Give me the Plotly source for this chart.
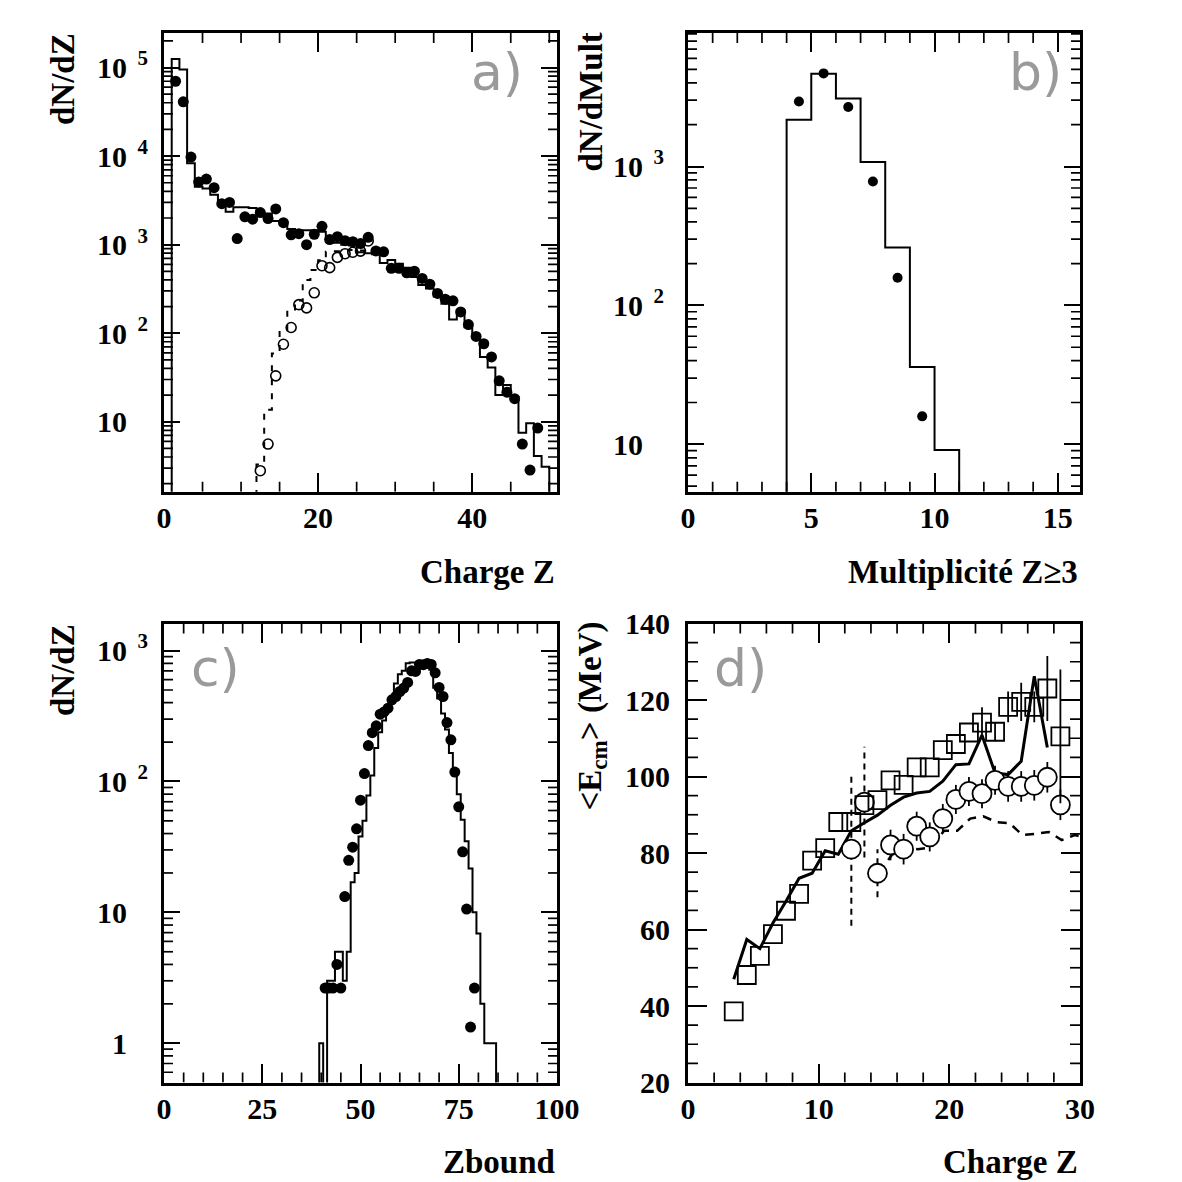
import math
import plotly.graph_objects as go

FONT = "Liberation Serif"
W = H = 1182

# ---------------- panel a : charge distribution ----------------
a_sim_lo = list(range(1, 50))          # lower bin edges, bin width 1
a_sim = [125000, 95000, 8300, 4500, 4300, 3650, 2950, 2350, 2650, 2650,
         2600, 2250, 2250, 1850, 1800, 1500, 1450, 1450, 1450, 1400,
         1150, 1050, 1000, 980, 820, 800, 780, 620, 670, 610,
         550, 430, 350, 320, 260, 215, 143, 182, 117, 91,
         54, 41, 20, 26, 19, 7.5, 9.6, 4.1, 3.1]
a_dat_z = [1.5, 2.5, 3.5, 4.5, 5.5, 6.5, 7.5, 8.5, 9.5, 10.5,
           11.5, 12.5, 13.5, 14.5, 15.5, 16.5, 17.5, 18.5, 19.5, 20.5,
           21.5, 22.5, 23.5, 24.5, 25.5, 26.5, 27.5, 28.5, 29.5, 30.5,
           31.5, 32.5, 33.5, 34.5, 35.5, 36.5, 37.5, 38.5, 39.5, 40.5,
           41.5, 42.5, 43.5, 44.5, 45.5, 46.5, 47.5, 48.5]
a_dat = [70000, 41000, 9750, 5100, 5500, 4400, 2900, 3000, 1170, 2060,
         1940, 2300, 1970, 2530, 1770, 1290, 1330, 1000, 1310, 1610,
         1140, 1230, 1110, 1080, 1030, 1210, 850, 830, 540, 540,
         481, 502, 415, 358, 281, 242, 232, 174, 125, 92,
         76, 54, 29, 21.6, 18.2, 5.6, 2.85, 8.5]
a_big_z = [12.5, 13.5, 14.5, 15.5, 16.5, 17.5, 18.5, 19.5, 20.5, 21.5,
           22.5, 23.5, 24.5, 25.5, 26.5]
a_big = [2.8, 5.6, 33, 75, 116, 210, 193, 286, 578, 550,
         718, 790, 820, 845, 1100]
a_bigsim_lo = list(range(12, 27))
a_bigsim = [3.3, 13.7, 59, 108, 185, 234, 400, 516, 667, 832,
            840, 860, 870, 860, 850]

# ---------------- panel b : multiplicity ----------------
b_sim_lo = [4, 5, 6, 7, 8, 9, 10]
b_sim = [2170, 4650, 3090, 1076, 261, 36, 9.1]
b_dat_m = [4.5, 5.5, 6.5, 7.5, 8.5, 9.5]
b_dat = [2940, 4680, 2680, 780, 158, 15.9]

# ---------------- panel c : Zbound ----------------
c_sim_lo = [39.5 + i for i in range(45)]   # bins centred on integers 40..84
c_sim = [1, 0, 3, 3, 5, 5, 3, 5, 17, 20,
         38, 50, 78, 111, 180, 238, 292, 365, 446, 560,
         660, 700, 800, 810, 810, 810, 810, 800, 714, 520,
         430, 330, 250, 165, 110, 80, 51, 35, 21.6, 10,
         6.9, 2, 1, 1, 1]
c_dat_z = list(range(41, 80))
c_dat = [2.64, 2.64, 2.64, 4.0, 2.64, 13.2, 25, 31.5, 43.5, 72,
         115, 188, 236, 266, 327, 340, 363, 421, 446, 487,
         517, 571, 701, 693, 784, 780, 798, 784, 677, 523,
         446, 282, 208, 118, 64, 29, 10.6, 1.33, 2.64]

# ---------------- panel d : mean energy ----------------
d_sq_z = [3.5 + i for i in range(26)]
d_sq = [38.6, 48.1, 53.1, 58.8, 64.9, 69.3, 78.0, 81.3, 88.1, 88.1,
        92.5, 93.8, 99.0, 97.8, 102.4, 102.4, 106.9, 108.5, 111.5, 114.1,
        111.7, 118.2, 119.5, 118.2, 123.0, 110.5]
d_sq_err = [0] * 19 + [4, 2.5, 4, 5, 4, 8.5, 17.5]
d_ci_z = [12.5 + i for i in range(17)]
d_ci = [81.0, 93.3, 74.7, 82.1, 81.0, 87.0, 84.2, 89.0, 94.0, 96.1,
        95.5, 99.0, 97.4, 97.4, 97.7, 99.8, 92.6]
d_ci_err = [0, 0, 0, 4, 4, 3.8, 3.8, 3.8, 3.8, 3.8, 3.8, 3.8, 4, 4, 4, 4, 4]
d_ci_dash_err = [20, 14.5, 6.3]          # large dashed errors on first three circles
d_sol_z = [3.5 + i for i in range(25)]
d_sol = [47.0, 57.4, 55.0, 61.7, 67.4, 73.4, 74.7, 80.6, 79.7, 85.8,
         87.9, 89.9, 92.5, 94.6, 95.7, 96.1, 98.8, 103.1, 103.3, 110.8,
         100.9, 100.5, 104.0, 126.2, 107.6]
d_dash_z = [14.6, 15.6, 16.6, 17.6, 18.6, 19.6, 20.6, 21.6, 22.6, 23.6,
            24.6, 25.6, 26.6, 27.6, 28.6, 29.6, 30.4]
d_dash = [74.8, 79.5, 81.2, 81.0, 81.5, 85.8, 85.8, 89.0, 89.6, 88.1,
          87.8, 84.7, 85.0, 85.5, 83.4, 84.7, 84.0]

# log tick labels
dec_vals = [1, 10, 100, 1000, 10000, 100000]
dec_text = ["1", "10", "10", "10", "10", "10"]
dec_sup = ["", "", "2", "3", "4", "5"]

# axis ranges (log axes given in decades)
RA_X, RA_Y = [0, 51], [0.21, 5.39]
RB_X, RB_Y = [0, 15.9], [0.659, 3.961]
RC_X, RC_Y = [0, 100], [-0.30, 3.207]
RD_X, RD_Y = [0, 30], [20, 140]


def step_xy(lo, counts, width=1.0, floor=1e-3, close_end=True):
    xs = [lo[0]] + list(lo) + ([lo[-1] + width] if close_end else [])
    ys = [floor] + [c if c > 0 else floor for c in counts]
    if close_end:
        ys = ys + [floor]
    else:
        xs = xs + [lo[-1] + width]
        ys = ys + [counts[-1]]
    return xs, ys


def log_labels(texts, sups):
    out = []
    for t, s in zip(texts, sups):
        if s:
            out.append("<b>%s<sup>\u2002%s</sup></b>" % (t, s))
        else:
            out.append("<b>%s<sup><span style='color:rgba(0,0,0,0)'>\u20025</span></sup></b>" % t)
    return out


def px(x):
    return x / W


def py(y):
    return 1 - y / H


fig = go.Figure()

# panel a
xs, ys = step_xy(a_sim_lo, a_sim)
fig.add_trace(go.Scatter(x=xs, y=ys, mode="lines", line=dict(color="black", width=2, shape="hv"),
                         xaxis="x", yaxis="y", showlegend=False))
xs, ys = step_xy(a_bigsim_lo, a_bigsim, close_end=False)
fig.add_trace(go.Scatter(x=xs, y=ys, mode="lines",
                         line=dict(color="black", width=2, shape="hv", dash="6px,8px"),
                         xaxis="x", yaxis="y", showlegend=False))
fig.add_trace(go.Scatter(x=a_big_z, y=a_big, mode="markers",
                         marker=dict(symbol="circle-open", size=10, color="black", line=dict(width=1.6)),
                         xaxis="x", yaxis="y", showlegend=False))
fig.add_trace(go.Scatter(x=a_dat_z, y=a_dat, mode="markers",
                         marker=dict(symbol="circle", size=11, color="black"),
                         xaxis="x", yaxis="y", showlegend=False))

# panel b
xs, ys = step_xy(b_sim_lo, b_sim)
fig.add_trace(go.Scatter(x=xs, y=ys, mode="lines", line=dict(color="black", width=2, shape="hv"),
                         xaxis="x2", yaxis="y2", showlegend=False))
fig.add_trace(go.Scatter(x=b_dat_m, y=b_dat, mode="markers",
                         marker=dict(symbol="circle", size=10, color="black"),
                         xaxis="x2", yaxis="y2", showlegend=False))

# panel c
xs, ys = step_xy(c_sim_lo, c_sim)
fig.add_trace(go.Scatter(x=xs, y=ys, mode="lines", line=dict(color="black", width=2, shape="hv"),
                         xaxis="x3", yaxis="y3", showlegend=False))
fig.add_trace(go.Scatter(x=c_dat_z, y=c_dat, mode="markers",
                         marker=dict(symbol="circle", size=11, color="black"),
                         xaxis="x3", yaxis="y3", showlegend=False))

# panel d
dx, dy = [], []
for z, v, e in zip(d_ci_z, d_ci, d_ci_dash_err):
    dx += [z, z, None]
    dy += [v - e, v + e, None]
fig.add_trace(go.Scatter(x=dx, y=dy, mode="lines", line=dict(color="black", width=2, dash="6px,5px"),
                         xaxis="x4", yaxis="y4", showlegend=False))
fig.add_trace(go.Scatter(x=d_dash_z, y=d_dash, mode="lines",
                         line=dict(color="black", width=2.5, dash="9px,7px"),
                         xaxis="x4", yaxis="y4", showlegend=False))
fig.add_trace(go.Scatter(x=d_sol_z, y=d_sol, mode="lines", line=dict(color="black", width=3),
                         xaxis="x4", yaxis="y4", showlegend=False))
fig.add_trace(go.Scatter(x=d_ci_z, y=d_ci, mode="markers",
                         marker=dict(symbol="circle", size=19, color="white",
                                     line=dict(width=1.8, color="black")),
                         error_y=dict(type="data", array=d_ci_err, color="black", thickness=1.8, width=0),
                         xaxis="x4", yaxis="y4", showlegend=False))
fig.add_trace(go.Scatter(x=d_sq_z, y=d_sq, mode="markers",
                         marker=dict(symbol="square-open", size=18, color="black", line=dict(width=1.8)),
                         error_y=dict(type="data", array=d_sq_err, color="black", thickness=1.8, width=0),
                         xaxis="x4", yaxis="y4", showlegend=False))

XL, XR = 164, 557
XL2, XR2 = 688, 1080
YT, YB = 33, 491.7
YT2, YB2 = 623.5, 1082.5
xa = (px(XL), px(XR))
xb = (px(XL2), px(XR2))
ytop = (py(YB), py(YT))
ybot = (py(YB2), py(YT2))


# ---- minor tick marks on all four sides (axis decoration, drawn as a line trace) ----
def lin_minor(lo, hi, step, major):
    out = []
    n = int(round((hi - lo) / step))
    for i in range(n + 1):
        v = round(lo + i * step, 6)
        if lo < v < hi and abs(v / major - round(v / major)) > 1e-6:
            out.append(v)
    return out


def log_minor(lo_log, hi_log):
    out = []
    for e in range(int(math.floor(lo_log)), int(math.ceil(hi_log)) + 1):
        for k in range(2, 10):
            if lo_log < math.log10(k) + e < hi_log:
                out.append(k * 10.0 ** e)
    return out


def minor_ticks(xaxis, yaxis, xr, yr, ylog, xvals, yvals, w_px, h_px, lx=10, ly=9):
    def fy(u):
        return 10 ** u if ylog else u
    tx, ty = [], []
    dyu = lx * (yr[1] - yr[0]) / h_px
    for v in xvals:
        tx += [v, v, None, v, v, None]
        ty += [fy(yr[0]), fy(yr[0] + dyu), None, fy(yr[1]), fy(yr[1] - dyu), None]
    dxu = ly * (xr[1] - xr[0]) / w_px
    for v in yvals:
        tx += [xr[0], xr[0] + dxu, None, xr[1], xr[1] - dxu, None]
        ty += [v, v, None, v, v, None]
    fig.add_trace(go.Scatter(x=tx, y=ty, mode="lines", line=dict(color="black", width=1.7),
                             xaxis=xaxis, yaxis=yaxis, hoverinfo="skip", showlegend=False))


minor_ticks("x", "y", RA_X, RA_Y, True, lin_minor(0, 51, 5, 20), log_minor(*RA_Y), XR - XL, YB - YT)
minor_ticks("x2", "y2", RB_X, RB_Y, True, lin_minor(0, 15.9, 1, 5), log_minor(*RB_Y), XR2 - XL2, YB - YT)
minor_ticks("x3", "y3", RC_X, RC_Y, True, lin_minor(0, 100, 5, 25), log_minor(*RC_Y), XR - XL, YB2 - YT2)
minor_ticks("x4", "y4", RD_X, RD_Y, False, lin_minor(0, 30, 2, 10), lin_minor(20, 140, 5, 20),
            XR2 - XL2, YB2 - YT2, 10, 10)

tickfont = dict(family=FONT, size=30, color="black", weight="bold")


def ax(domain, rng, anchor, **kw):
    d = dict(domain=list(domain), range=rng, anchor=anchor, showline=True, linecolor="black",
             linewidth=3, mirror="allticks", ticks="inside", tickcolor="black", tickwidth=1.7,
             showgrid=False, zeroline=False, tickfont=tickfont, automargin=False)
    d.update(kw)
    return d


lab = log_labels(dec_text, dec_sup)
XSO = -3

fig.update_layout(
    template="none",
    width=W, height=H, margin=dict(l=0, r=0, t=0, b=0, autoexpand=False),
    plot_bgcolor="white", paper_bgcolor="white",
    xaxis=ax(xa, RA_X, "y", dtick=20, tick0=0, ticklen=19, ticklabelstandoff=XSO),
    yaxis=ax(ytop, RA_Y, "x", type="log", tickmode="array", tickvals=dec_vals[1:],
             ticktext=lab[1:], ticklen=16, ticklabelstandoff=7),
    xaxis2=ax(xb, RB_X, "y2", dtick=5, tick0=0, ticklen=19, ticklabelstandoff=XSO),
    yaxis2=ax(ytop, RB_Y, "x2", type="log", tickmode="array", tickvals=dec_vals[1:4],
              ticktext=lab[1:4], ticklen=16, ticklabelstandoff=15),
    xaxis3=ax(xa, RC_X, "y3", dtick=25, tick0=0, ticklen=19, ticklabelstandoff=XSO),
    yaxis3=ax(ybot, RC_Y, "x3", type="log", tickmode="array", tickvals=dec_vals[0:4],
              ticktext=lab[0:4], ticklen=16, ticklabelstandoff=7),
    xaxis4=ax(xb, RD_X, "y4", dtick=10, tick0=0, ticklen=19, ticklabelstandoff=XSO),
    yaxis4=ax(ybot, RD_Y, "x4", dtick=20, tick0=0, ticklen=19, ticklabelstandoff=9),
)

tfont = dict(family=FONT, size=33, color="black")
ann = [
    dict(text="<b>Charge Z</b>", x=px(557), y=py(572), xanchor="right", yanchor="middle"),
    dict(text="<b>Multiplicité Z≥3</b>", x=px(1080), y=py(572), xanchor="right", yanchor="middle"),
    dict(text="<b>Zbound</b>", x=px(557), y=py(1162), xanchor="right", yanchor="middle"),
    dict(text="<b>Charge Z</b>", x=px(1080), y=py(1162), xanchor="right", yanchor="middle"),
    dict(text="<b>dN/dZ</b>", x=px(63), y=py(31), xanchor="center", yanchor="top", textangle=-90),
    dict(text="<b>dN/dMult</b>", x=px(591), y=py(31), xanchor="center", yanchor="top", textangle=-90),
    dict(text="<b>dN/dZ</b>", x=px(63), y=py(622), xanchor="center", yanchor="top", textangle=-90),
    dict(text="<b>&lt;E<sub>cm</sub>&gt; (MeV)</b>", x=px(592), y=py(620), xanchor="center",
         yanchor="top", textangle=-90),
]
for a in ann:
    a.update(xref="paper", yref="paper", showarrow=False, font=tfont)
    fig.add_annotation(**a)

lfont = dict(family="DejaVu Sans", size=52, color="#9a9a9a")
for t, x, y in [("a)", 497, 72), ("b)", 1035, 72), ("c)", 215, 668), ("d)", 740, 668)]:
    fig.add_annotation(text=t, x=px(x), y=py(y), xref="paper", yref="paper", showarrow=False,
                       xanchor="center", yanchor="middle", font=lfont)

fig.write_html("out.html")
